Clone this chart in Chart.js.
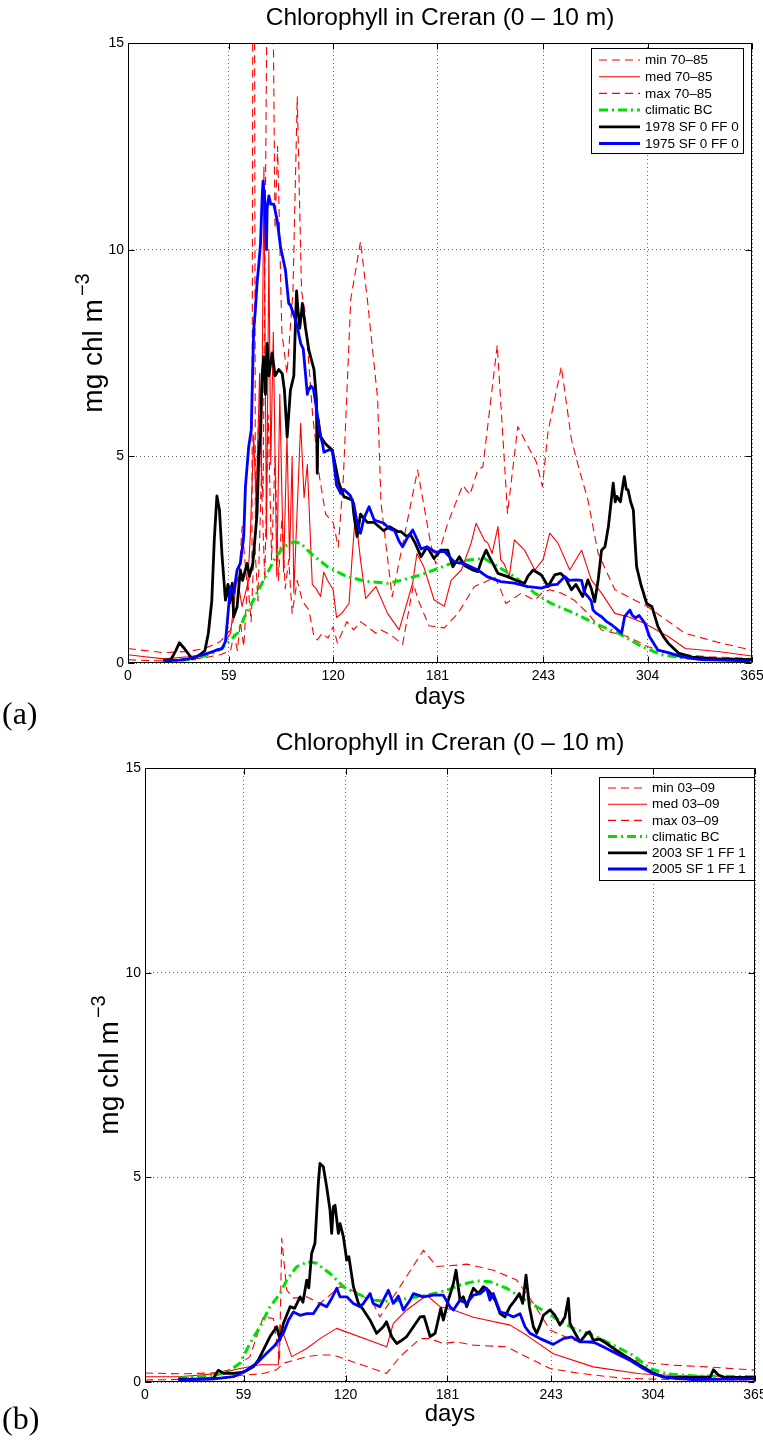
<!DOCTYPE html>
<html>
<head>
<meta charset="utf-8">
<script src="https://cdn.jsdelivr.net/npm/chart.js@4.4.0/dist/chart.umd.min.js"></script>
<style>
  html, body { margin: 0; padding: 0; background: #fff; }
  body { width: 763px; height: 1444px; position: relative; overflow: hidden; }
  canvas { position: absolute; left: 0; }
  #ca { top: 0; }
  #cb { top: 725px; }
  .panel { position: absolute; left: 2px; font-family: "Liberation Serif", "DejaVu Serif", serif; font-size: 32px; line-height: 32px; color: #000; }
</style>
</head>
<body>
<canvas id="ca" width="763" height="720"></canvas>
<canvas id="cb" width="763" height="710"></canvas>
<div class="panel" style="top:697px">(a)</div>
<div class="panel" style="top:1402px">(b)</div>
<script>
// ---------------- data (day, mg chl m^-3) ----------------
const chartTitle = 'Chlorophyll in Creran (0 \u2013 10 m)';
const xTitle = 'days';
const yTitleMain = 'mg chl m';
const yTitleSup = '\u22123';
const xTickValues = [0, 59, 120, 181, 243, 304, 365];
const yTickValues = [0, 5, 10, 15];

// panel (a)
const labelsA = ['min 70\u201385', 'med 70\u201385', 'max 70\u201385', 'climatic BC', '1978 SF 0 FF 0', '1975 SF 0 FF 0'];
const minA = [[0,0.08],[10,0.06],[21,0.05],[35,0.08],[44,0.12],[54,0.2],[60,0.3],[62,0.7],[64,0.3],[65.7,1.0],[67.7,0.4],[70,2.0],[72,1.0],[74,3.0],[76,1.5],[78,4.5],[80,2.0],[82,6.0],[84,2.5],[86,5.0],[88,2.0],[90,3.5],[92,1.8],[94,2.5],[96,1.2],[99,2.0],[102,1.5],[105.8,1.28],[108.8,0.64],[110.7,0.56],[113.6,0.72],[117,0.6],[120,0.88],[122.5,0.48],[128,1.0],[132,0.8],[136,1.0],[140,0.88],[145,0.72],[148,0.8],[153.8,0.68],[160.6,0.45],[167,1.9],[170,1.5],[176,0.9],[185,0.85],[193,1.2],[202.6,1.85],[211,2.0],[214.4,2.09],[218,1.77],[221,1.44],[224,1.52],[230,1.69],[238,1.52],[242,1.69],[246.7,1.77],[253.5,1.69],[261,1.52],[269,1.2],[277,0.8],[284.8,0.72],[292,0.64],[304,0.4],[316,0.23],[340,0.15],[365,0.11]];
const medA = [[0,0.2],[10,0.15],[21,0.1],[35,0.15],[44,0.2],[54,0.32],[60,0.72],[63.8,2.09],[66.7,1.37],[70,1.9],[71.6,3.14],[73.5,5.5],[75,3.9],[77,7.0],[78,4.5],[79.5,12.0],[81,3.0],[82.4,10.0],[83.5,4.8],[85,8.0],[87,2.1],[88.8,6.5],[91,2.2],[93,5.5],[94.5,2.5],[96,5.0],[97,1.7],[101,5.8],[103,4.0],[104.9,4.8],[107.8,1.9],[110,1.8],[112.7,1.61],[114.5,2.2],[116.6,2.01],[120,1.77],[122,1.1],[125,1.2],[129.3,1.44],[131,2.5],[133,3.6],[136,2.5],[139,1.56],[145,1.85],[151.8,1.2],[158.6,0.8],[166.5,1.93],[169,2.65],[173,2.33],[179,1.53],[185,1.37],[189,2.0],[195,2.25],[200.7,2.9],[203.6,3.38],[208.5,2.97],[210.5,2.9],[213,2.65],[216.4,3.3],[218,2.5],[220,2.4],[223,2.09],[226,2.98],[232,2.73],[238,2.25],[242.8,2.5],[246.7,3.14],[251.5,2.9],[258.4,2.25],[265.3,2.73],[271,2.01],[277,1.69],[284.8,1.2],[292.6,1.12],[302,0.96],[316,0.64],[326,0.35],[345,0.28],[365,0.17]];
const maxA = [[0,0.35],[10,0.3],[21,0.25],[35,0.28],[45,0.35],[54,0.52],[60,0.8],[64,1.4],[66.7,3.3],[69.6,1.9],[72.5,2.2],[73.5,30],[74.5,3.5],[76.5,6.0],[79,4.0],[83,25],[86,10.5],[87.5,12.5],[90,8.0],[93,7.0],[96.5,9.0],[99,13.7],[101.5,9.0],[103.5,8.5],[108,6.0],[112,4.5],[115.6,3.6],[120,3.4],[123,2.8],[126,4.5],[130.3,8.8],[136,10.2],[140,8.8],[146,6.4],[148,3.87],[154.5,1.6],[169.4,4.67],[177,2.9],[180,2.4],[187,3.38],[195.8,4.3],[200,4.07],[204.6,4.67],[207.6,4.75],[216,7.69],[222,3.62],[228,5.72],[234,5.24],[238.8,4.87],[242.4,4.27],[245.7,5.6],[253.5,7.17],[259.4,5.4],[264,4.67],[269,3.95],[275,2.65],[284.8,1.77],[296.5,1.52],[304,1.36],[325.8,0.72],[345,0.5],[365,0.31]];
const climA = [[20,0.05],[30,0.06],[40,0.1],[50,0.25],[55,0.35],[58,0.48],[64,0.72],[68,1.1],[73.5,1.53],[79.4,2.01],[86.5,2.57],[91,2.81],[97,2.93],[101,2.9],[107,2.65],[116.6,2.33],[128,2.09],[140,1.97],[151.8,1.93],[160,2.0],[171,2.13],[179,2.25],[189,2.41],[198.8,2.49],[208.5,2.53],[216.4,2.33],[226,2.09],[238,1.69],[247.6,1.44],[261.3,1.2],[273,0.96],[286.8,0.72],[300.5,0.4],[312,0.2],[325,0.12],[345,0.1],[365,0.08]];
const run1978 = [[20.7,0.07],[25,0.08],[28,0.3],[30,0.49],[33,0.35],[37.5,0.1],[40,0.15],[42,0.2],[45,0.3],[47,0.72],[49,1.5],[50.5,3.0],[52,4.04],[53.5,3.7],[55,2.6],[57,1.52],[58.5,1.9],[59.5,1.45],[61,1.93],[61.8,1.12],[63.8,1.36],[65.7,2.25],[67,2.0],[69.7,2.41],[71,2.1],[73,2.4],[75.5,3.62],[76.5,5.0],[77.5,5.64],[78.5,7.0],[79.4,7.41],[80.4,6.5],[81.4,7.73],[82.4,6.95],[84.3,7.5],[86,6.95],[88.2,7.1],[90.2,7.0],[91.5,6.6],[93.1,5.47],[95,6.6],[97,6.95],[98,8.3],[98.6,9.0],[99.5,8.5],[100.5,8.1],[102,8.7],[103.5,8.2],[105.8,7.57],[108.8,7.1],[110.2,6.4],[110.7,4.59],[111.2,5.9],[112.7,5.47],[115.6,5.3],[119.5,5.15],[123.4,4.35],[126.3,4.02],[128,4.0],[131.3,3.94],[132,3.63],[134,3.06],[136,3.6],[140,3.4],[144,3.4],[149.6,3.2],[153,3.3],[157.7,3.18],[159.6,3.18],[163,3.06],[165,3.12],[168,2.9],[171.4,2.57],[175,2.81],[179,2.53],[183,2.73],[187,2.73],[190,2.33],[193.8,2.57],[197,2.35],[201.7,2.25],[204.6,2.21],[207,2.5],[209.5,2.73],[211,2.6],[213.4,2.41],[216.4,2.17],[222,2.09],[227,2.0],[232,1.93],[234,2.1],[237,2.25],[241.8,2.13],[245.7,1.85],[249.6,2.13],[253,2.17],[256,2.05],[259.4,1.77],[262,1.9],[266,1.61],[269,2.01],[271,1.8],[273,1.48],[275,2.0],[277,2.73],[279,2.81],[281,3.3],[283.8,4.35],[285,3.9],[286,4.03],[288,3.9],[290.3,4.51],[291.5,4.2],[292.5,4.19],[294,3.9],[295.6,3.7],[296.5,3.0],[297.5,2.33],[300,1.9],[303.4,1.44],[306.5,1.36],[310,0.88],[313,0.65],[316,0.48],[322,0.24],[330,0.14],[345,0.1],[365,0.08]];
const run1975 = [[21,0.05],[30,0.07],[35,0.1],[44,0.2],[50,0.28],[52,0.32],[55,0.35],[57,0.52],[58,0.96],[59.9,1.85],[61.8,1.69],[63.8,2.25],[65.7,2.41],[67.7,3.06],[68.7,4.27],[70.6,5.23],[72.1,5.64],[73.5,8.05],[74.5,8.54],[75.5,9.2],[76.5,9.63],[77.5,10.15],[78.5,11.3],[79,11.66],[80,11.2],[81,10.0],[81.4,11.0],[82.4,11.3],[83.5,11.1],[85.3,11.1],[87.3,10.7],[89.2,10.07],[92.1,9.5],[94,8.7],[95,8.66],[98,8.3],[99,8.14],[101,7.73],[102.5,7.6],[104.9,6.5],[105.5,6.6],[107,6.7],[108.4,6.64],[110.7,6.04],[112,5.6],[113.7,5.32],[114.6,5.1],[117,5.15],[119.5,5.15],[122,4.3],[123.4,4.19],[124.5,4.1],[126.3,4.2],[130,4.05],[132,3.86],[134,3.4],[136,3.14],[138,3.5],[141,3.78],[144,3.46],[149.6,3.38],[153,3.25],[156,3.2],[158.5,2.95],[160.6,2.81],[163,3.0],[166.5,3.22],[169,3.0],[171.4,2.76],[175,2.81],[180,2.68],[185,2.7],[191,2.44],[196.8,2.4],[204.6,2.25],[210,2.09],[218,1.97],[226,1.93],[234,1.85],[241.8,1.81],[247.6,1.89],[251,1.9],[255.5,2.09],[258,2.0],[262,2.01],[265.3,2.0],[267,1.7],[269,1.61],[271,1.5],[272,1.28],[274,1.2],[277,1.12],[280,1.0],[283,0.92],[286,0.82],[288.7,0.72],[290.5,1.12],[292,1.2],[293.6,1.28],[295,1.15],[297,1.09],[299,1.15],[302.4,0.96],[305,0.64],[310,0.31],[316,0.25],[324,0.15],[335,0.08],[364,0.05]];

// panel (b)
const labelsB = ['min 03\u201309', 'med 03\u201309', 'max 03\u201309', 'climatic BC', '2003 SF 1 FF 1', '2005 SF 1 FF 1'];
const minB = [[0,0.05],[20,0.06],[50,0.12],[58.9,0.17],[70,0.2],[78.8,0.3],[82.8,0.46],[90.8,0.55],[96.8,0.62],[104.7,0.66],[112.7,0.66],[124.7,0.49],[144.6,0.21],[152.6,0.62],[164.6,1.06],[170.6,1.06],[178.5,0.94],[186.5,0.98],[196.5,0.9],[216.4,0.86],[228.4,0.61],[242.4,0.33],[260.3,0.21],[286.2,0.09],[316,0.06],[365,0.05]];
const medB = [[0,0.13],[20,0.13],[44.9,0.21],[56.8,0.33],[68.8,0.42],[79.8,0.42],[80.8,1.4],[87.8,0.62],[96.8,0.82],[104.7,1.06],[114.7,1.31],[144.6,0.86],[148.6,1.43],[156.6,1.76],[168.6,2.12],[176.5,1.84],[184.5,1.76],[196.5,1.58],[218.4,1.39],[228.4,1.14],[244.3,0.69],[268.2,0.37],[296.2,0.2],[316.1,0.16],[365,0.13]];
const maxB = [[0,0.22],[20,0.2],[40,0.22],[52,0.3],[62.8,0.62],[70.8,1.59],[76.8,1.55],[80.5,0.5],[81.8,3.51],[84.8,2.25],[88.8,2.05],[96.8,2.08],[104.7,1.92],[116.7,2.33],[126.7,2.2],[136.6,1.92],[140.6,1.59],[152.6,2.33],[166.6,3.22],[174.5,2.82],[188.5,2.86],[192.5,2.88],[208.5,2.73],[222.4,2.49],[232.4,1.92],[242.4,1.27],[256.3,1.02],[268.2,0.94],[282.2,0.73],[296.2,0.49],[316.1,0.41],[336.1,0.37],[365,0.29]];
const climB = [[19.9,0.09],[42.9,0.17],[50.9,0.29],[56.8,0.46],[62.8,0.94],[68.8,1.35],[74.8,1.84],[80.8,2.16],[84.8,2.49],[90.8,2.82],[97.7,2.94],[102.7,2.9],[110.7,2.65],[118.7,2.33],[126.7,2.16],[136.6,2.0],[148.6,1.96],[156.6,2.04],[168.6,2.12],[180.5,2.24],[188.5,2.37],[198.5,2.47],[206.4,2.45],[216.4,2.29],[224.4,2.08],[234.4,1.84],[244.3,1.59],[256.3,1.31],[268.2,1.14],[280.2,0.9],[292.2,0.65],[302.2,0.33],[312.1,0.2],[328.1,0.15],[365,0.13]];
const run2003 = [[19.9,0.07],[30,0.07],[40.9,0.09],[43.9,0.29],[46.9,0.21],[52.9,0.21],[58.9,0.24],[64.8,0.37],[68,0.55],[70.8,0.78],[74.8,1.11],[78.8,1.35],[80.8,1.03],[82.8,1.43],[86.8,1.84],[89.5,1.8],[92.8,2.08],[94.5,1.95],[96.8,2.49],[98,2.3],[99.7,3.14],[101.7,3.39],[103.7,4.85],[104.7,5.34],[106.7,5.26],[108.7,4.77],[110.7,4.2],[111.7,3.63],[112.7,4.28],[113.7,4.32],[115.7,3.63],[116.7,3.87],[118.7,3.55],[120.7,2.98],[122,3.06],[124.7,2.33],[127.7,1.92],[130.7,1.76],[134.7,1.51],[138.6,1.19],[142.6,1.35],[144.5,1.47],[147.6,1.11],[150.6,0.94],[153,1.0],[156.6,1.11],[160.6,1.35],[164.6,1.59],[167,1.6],[170.6,1.11],[173.6,1.19],[177,1.8],[178.5,1.51],[181.5,2.0],[184.5,2.4],[186.1,2.73],[188.5,2.0],[190.5,2.08],[192.5,1.84],[194.5,2.08],[196.5,2.29],[199.5,2.16],[202.5,2.33],[205.5,2.24],[209.5,2.0],[212.5,1.67],[215.4,1.59],[218.4,1.84],[221.4,2.0],[224,2.16],[226,1.92],[228,2.61],[230,1.84],[232.4,1.35],[234.4,1.19],[236.4,1.39],[238.4,1.63],[242.4,1.76],[245.3,1.63],[248.3,1.39],[251.3,1.59],[253.3,2.04],[254.3,1.43],[256.3,1.27],[260.3,0.98],[264.3,1.19],[266,1.23],[268.2,1.02],[272,1.05],[276.2,0.94],[282.2,0.77],[288.2,0.61],[296.2,0.41],[303.2,0.24],[310.2,0.12],[320.1,0.11],[338.1,0.11],[340.1,0.3],[343.1,0.17],[347,0.11],[365,0.11]];
const run2005 = [[19.9,0.05],[40,0.07],[52.9,0.13],[60.8,0.29],[66.8,0.46],[72.8,0.7],[77.8,0.9],[82.8,1.19],[85.8,1.51],[88.8,1.71],[92.8,1.63],[96.8,1.67],[100.7,1.67],[104.7,1.92],[108.7,1.84],[111.7,2.04],[114.7,2.29],[116.7,2.08],[120.7,2.08],[124.7,1.92],[128.7,1.84],[130.7,1.92],[134.7,2.16],[136.5,1.92],[140.6,1.84],[145.6,2.24],[148.6,1.92],[151.6,2.1],[154.6,1.76],[158.6,2.0],[160.6,2.16],[166.6,2.08],[172.6,2.12],[178.5,2.12],[182.5,1.84],[184.5,1.76],[188.5,2.0],[192.5,1.92],[196.5,2.12],[200.5,2.16],[204.4,2.29],[206.4,2.0],[208.4,2.16],[212.5,1.71],[216.4,1.67],[220.4,1.59],[224.4,1.67],[227.4,1.35],[230.4,1.19],[236.4,1.06],[244.3,0.92],[250.3,1.06],[255.3,1.1],[260.3,0.98],[268.2,0.98],[274.2,0.86],[282.2,0.69],[290.2,0.53],[298.2,0.33],[304.2,0.2],[312.1,0.11],[328.1,0.06],[365,0.08]];

// ---------------- styling / construction ----------------
const SANS = '"Liberation Sans", Arial, Helvetica, sans-serif';
const RED = '#ff0000', GREEN = '#00e000', BLACK = '#000000', BLUE = '#0000ff';
const DASH = [8, 5], DASHDOT = [9, 4, 2, 4];

function ds(label, pts, color, width, dash, order) {
  return {
    label, data: pts.map(p => ({ x: p[0], y: p[1] })),
    borderColor: color, backgroundColor: color, borderWidth: width, borderDash: dash,
    pointRadius: 0, pointHoverRadius: 0, fill: false, tension: 0, order,
    borderJoinStyle: 'round', borderCapStyle: 'butt'
  };
}

const matlabFrame = {
  id: 'matlabFrame',
  afterDatasetsDraw(chart, args, opts) {
    const { ctx, chartArea: a, scales: { x, y } } = chart;
    ctx.save();
    ctx.setLineDash([]);
    ctx.strokeStyle = '#000';
    ctx.lineWidth = 1;
    const L = Math.round(a.left) + 0.5, R = Math.round(a.right) - 0.5;
    const T = Math.round(a.top) + 0.5, B = Math.round(a.bottom) - 0.5;
    ctx.beginPath();
    ctx.rect(L, T, R - L, B - T);
    const tl = 6;
    x.ticks.forEach(t => {
      const px = Math.round(x.getPixelForValue(t.value)) + 0.5;
      ctx.moveTo(px, B); ctx.lineTo(px, B - tl);
      ctx.moveTo(px, T); ctx.lineTo(px, T + tl);
    });
    y.ticks.forEach(t => {
      const py = Math.round(y.getPixelForValue(t.value)) + 0.5;
      ctx.moveTo(L, py); ctx.lineTo(L + tl, py);
      ctx.moveTo(R, py); ctx.lineTo(R - tl, py);
    });
    ctx.stroke();

    // y axis title with a real superscript
    const yt = opts.yTitle;
    ctx.save();
    ctx.translate(yt.x, (a.top + a.bottom) / 2 + yt.dy);
    ctx.rotate(-Math.PI / 2);
    ctx.fillStyle = '#000';
    ctx.textBaseline = 'alphabetic';
    ctx.textAlign = 'left';
    ctx.font = yt.size + 'px ' + SANS;
    const wMain = ctx.measureText(yTitleMain).width;
    ctx.font = yt.supSize + 'px ' + SANS;
    const wSup = ctx.measureText(yTitleSup).width;
    const start = -(wMain + yt.gap + wSup) / 2;
    const base = yt.size * 0.36;
    ctx.font = yt.size + 'px ' + SANS;
    ctx.fillText(yTitleMain, start, base);
    ctx.font = yt.supSize + 'px ' + SANS;
    ctx.fillText(yTitleSup, start + wMain + yt.gap, base - yt.size * 0.45);
    ctx.restore();

    // legend box
    const lg = opts.legend;
    ctx.fillStyle = '#fff';
    ctx.fillRect(lg.left, lg.top, lg.width, lg.height);
    ctx.strokeStyle = '#000';
    ctx.lineWidth = 1;
    ctx.strokeRect(lg.left + 0.5, lg.top + 0.5, lg.width, lg.height);
    ctx.font = lg.fontSize + 'px ' + SANS;
    ctx.textBaseline = 'middle';
    ctx.textAlign = 'left';
    chart.data.datasets.forEach((d, i) => {
      const yy = lg.top + lg.firstRow + i * lg.rowGap;
      ctx.beginPath();
      ctx.setLineDash(d.borderDash || []);
      ctx.strokeStyle = d.borderColor;
      ctx.lineWidth = d.borderWidth;
      ctx.moveTo(lg.sampleX0, yy); ctx.lineTo(lg.sampleX1, yy);
      ctx.stroke();
      ctx.setLineDash([]);
      ctx.fillStyle = '#000';
      ctx.fillText(d.label, lg.textX, yy + 0.5);
    });
    ctx.restore();
  }
};

function makeChart(id, labels, series, geo) {
  const [mn, md, mx, cl, r1, r2] = series;
  const datasets = [
    ds(labels[0], mn, RED, 1.1, DASH, 5),
    ds(labels[1], md, RED, 1.1, [], 4),
    ds(labels[2], mx, RED, 1.1, DASH, 3),
    ds(labels[3], cl, GREEN, 3, DASHDOT, 2),
    ds(labels[4], r1, BLACK, 2.8, [], 1),
    ds(labels[5], r2, BLUE, 2.8, [], 0)
  ];
  const tSize = 24.5, tLH = tSize * 1.2, tTop = 18 - tLH / 2;
  const xtSize = 24, xtLH = xtSize * 1.2;
  return new Chart(document.getElementById(id), {
    type: 'line',
    data: { datasets },
    plugins: [matlabFrame],
    options: {
      responsive: false,
      animation: false,
      devicePixelRatio: 1,
      layout: { padding: { left: 0, right: geo.padRight, top: 0, bottom: 0 } },
      plugins: {
        legend: { display: false },
        tooltip: { enabled: false },
        title: {
          display: true, text: chartTitle, color: '#000', fullSize: false,
          font: { family: SANS, size: tSize, weight: 'normal', lineHeight: 1.2 },
          padding: { top: tTop, bottom: 43 - tTop - tLH }
        },
        matlabFrame: { legend: geo.legend, yTitle: geo.yTitle }
      },
      scales: {
        x: {
          type: 'linear', min: 0, max: 365,
          afterBuildTicks: s => { s.ticks = xTickValues.map(v => ({ value: v })); },
          afterFit: s => { s.height = geo.xAxisH; s.paddingLeft = 0; s.paddingRight = 0; },
          ticks: { color: '#000', font: { family: SANS, size: 14 }, padding: 4.5, autoSkip: false, maxRotation: 0 },
          grid: { color: 'rgba(0,0,0,0.6)', lineWidth: 1, drawTicks: false },
          border: { display: false, dash: [1, 3] },
          title: { display: true, text: xTitle, color: '#000', font: { family: SANS, size: xtSize, lineHeight: 1.2 },
                   padding: { top: 0, bottom: geo.xAxisH - (geo.xTitleY - (geo.xAxisTop)) - xtLH / 2 } }
        },
        y: {
          type: 'linear', min: 0, max: 15,
          afterBuildTicks: s => { s.ticks = yTickValues.map(v => ({ value: v })); },
          afterFit: s => { s.width = geo.yAxisW; },
          ticks: { color: '#000', font: { family: SANS, size: 14 }, padding: 4 },
          grid: { color: 'rgba(0,0,0,0.6)', lineWidth: 1, drawTicks: false },
          border: { display: false, dash: [1, 3] },
          title: { display: false }
        }
      }
    }
  });
}

makeChart('ca', labelsA, [minA, medA, maxA, climA, run1978, run1975], {
  padRight: 11, xAxisH: 57, xAxisTop: 663, xTitleY: 697, yAxisW: 128,
  yTitle: { x: 92, dy: -10, size: 28, supSize: 20, gap: 3 },
  legend: { left: 591, top: 48, width: 152, height: 105, firstRow: 12, rowGap: 16.7, sampleX0: 599, sampleX1: 640, textX: 645, fontSize: 13.5 }
});
makeChart('cb', labelsB, [minB, medB, maxB, climB, run2003, run2005], {
  padRight: 8, xAxisH: 53, xAxisTop: 657, xTitleY: 689, yAxisW: 145,
  yTitle: { x: 108, dy: -10, size: 28, supSize: 20, gap: 3 },
  legend: { left: 599, top: 52, width: 155, height: 103, firstRow: 11, rowGap: 16.2, sampleX0: 608, sampleX1: 647, textX: 652, fontSize: 13.5 }
});
</script>
</body>
</html>
